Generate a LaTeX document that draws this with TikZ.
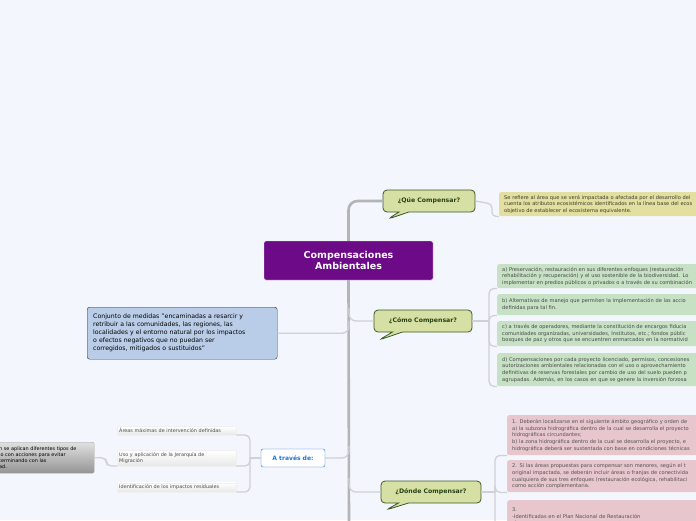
\documentclass[tikz,border=0pt]{standalone}
\usepackage{fontspec}
\setmainfont{DejaVu Sans}
\usetikzlibrary{shapes.callouts}

\definecolor{fondo}{RGB}{244,246,253}
\definecolor{morado}{RGB}{108,10,136}
\definecolor{tronco}{RGB}{180,180,182}
\definecolor{rama}{RGB}{208,208,214}
\definecolor{globo}{RGB}{214,224,164}
\definecolor{globoborde}{RGB}{58,90,38}
\definecolor{globotexto}{RGB}{38,66,22}
\definecolor{notaam}{RGB}{227,223,160}
\definecolor{notaverde}{RGB}{199,225,197}
\definecolor{notarosa}{RGB}{231,199,205}
\definecolor{azulinfo}{RGB}{186,205,232}
\definecolor{azultexto}{RGB}{28,118,214}

\tikzset{
  rama/.style={draw=rama, line width=1.3pt, rounded corners=7},
  pregunta/.style={rectangle callout, draw=globoborde, fill=globo, rounded corners=4,
    line width=0.8pt, callout pointer width=10pt, text=globotexto,
    font=\bfseries\fontsize{6.2}{7}\selectfont, minimum height=22, inner xsep=7},
  nota/.style={anchor=north west, rectangle, rounded corners=2, inner xsep=4, inner ysep=2,
    text width=250, align=left, minimum width=260, font=\fontsize{5.1}{6.7}\selectfont},
  item/.style={rectangle, draw=white!88!gray, top color=white, bottom color=black!9,
    inner sep=2, text width=115, align=left, text=black!70, font=\fontsize{4.9}{6.4}\selectfont}
}

\begin{document}
\begin{tikzpicture}[x=1pt, y=-1pt]
\clip (0,0) rectangle (696,520);
\fill[fondo] (0,0) rectangle (696,520);

% centro y preguntas
\node[draw=white!80!gray, fill=morado, text=white, rounded corners=1.5, align=center,
  minimum width=169, minimum height=39, inner sep=0,
  font=\bfseries\fontsize{9.5}{11}\selectfont] (centro) at (348.5,260.5) {Compensaciones\\Ambientales};

\node[pregunta, minimum width=92, callout absolute pointer={(388,219)}] (que) at (429,201) {¿Qúe Compensar?};
\node[pregunta, minimum width=98, callout absolute pointer={(379,340)}] (como) at (423,321) {¿Cómo Compensar?};
\node[pregunta, minimum width=100, callout absolute pointer={(386,510)}] (donde) at (431,492) {¿Dónde Compensar?};

% izquierda
\node[draw=black!80, fill=azulinfo, rounded corners=2.5, anchor=north west, text width=178,
  minimum width=190, minimum height=52, align=left, inner xsep=6,
  font=\fontsize{6.2}{8}\selectfont] (info) at (87,307)
  {Conjunto de medidas "encaminadas a resarcir y\\retribuir a las comunidades, las regiones, las\\localidades y el entorno natural por los impactos\\o efectos negativos que no puedan ser\\corregidos, mitigados o sustituidos"};

\node[draw=azultexto, fill=white, rounded corners=2, minimum width=64, minimum height=18,
  text=azultexto, font=\bfseries\fontsize{6}{7}\selectfont] (atraves) at (293,458) {A través de:};

\node[item, anchor=south west] (areas) at (117,435) {Áreas máximas de intervención definidas};
\node[item, anchor=south west] (uso) at (117,466) {Uso y aplicación de la Jerarquía de\\Migración};
\node[item, anchor=south west] (impactos) at (117,492) {Identificación de los impactos residuales};

\node[rectangle, draw=black!35, top color=black!12, bottom color=black!42, rounded corners=2,
  anchor=north west, minimum width=97, minimum height=31, text width=92, align=left,
  inner xsep=3, inner ysep=2, font=\fontsize{4.9}{6.3}\selectfont] (gris) at (-4,442)
  {n se aplican diferentes tipos de\\lo con acciones para evitar\\terminando con las\\ad.};

% notas de la derecha
\node[nota, fill=notaam, text=black!55!notaam!60!black, minimum height=24] (nqa) at (499,192)
  {Se refiere al área que se verá impactada o afectada por el desarrollo del\\cuenta los atributos ecosistémicos identificados  en la línea base del ecos\\objetivo de establecer el ecosistema equivalente.};

\node[nota, fill=notaverde, text=black!72, minimum height=24] (va) at (497,264)
  {a) Preservación, restauración en sus diferentes enfoques (restauración\\rehabilitación y recuperación) y el uso sostenible de la biodiversidad. Lo\\implementar en predios públicos o privados o a través de su combinación};
\node[nota, fill=notaverde, text=black!72, minimum height=21] (vb) at (497,294)
  {b) Alternativas de manejo que permiten la implementación de las accio\\definidas para tal fin.};
\node[nota, fill=notaverde, text=black!72, minimum height=25] (vc) at (497,321)
  {c) a través de operadores, mediante la constitución de encargos fiducia\\comunidades organizadas, universidades, Institutos, etc.; fondos públic\\bosques de paz y otros que se encuentren enmarcados en la normativid};
\node[nota, fill=notaverde, text=black!72, minimum height=33] (vd) at (497,353)
  {d) Compensaciones por cada proyecto licenciado, permisos, concesiones\\autorizaciones ambientales relacionadas con el uso o aprovechamiento\\definitivas de reservas forestales por cambio de uso del suelo pueden p\\agrupadas. Además, en los casos en que se genere la inversión forzosa};

\node[nota, fill=notarosa, text=black!68, minimum height=40] (r1) at (507,415)
  {1. Deberán localizarse en el siguiente ámbito geográfico y orden de\\a) la subzona hidrográfica dentro de la cual se desarrolla el proyecto\\hidrográficas circundantes;\\b) la zona hidrográfica dentro de la cual se desarrolla el proyecto, e\\hidrográfica deberá ser sustentada con base en condiciones técnicas};
\node[nota, fill=notarosa, text=black!68, minimum height=32] (r2) at (507,460)
  {2. Si las áreas propuestas para compensar son menores, según el t\\original impactada, se deberán incluir áreas o franjas de conectivida\\cualquiera de sus tres enfoques (restauración ecológica, rehabilitaci\\como acción complementaria.};
\node[nota, fill=notarosa, text=black!68, minimum height=34] (r3) at (507,500)
  {3.\\-Identificadas en el Plan Nacional de Restauración\\-Áreas de importancia para la conservación};

% tronco
\coordinate (tfin) at (349,530);
\draw[draw=tronco, line width=2.6pt, rounded corners=9] (que.west) -| (centro.north);
\draw[draw=tronco, line width=2.6pt] (centro.south) -- (tfin);

% ramas del tronco
\coordinate (tcomo) at (349,308);
\coordinate (tinfo) at (349,321);
\coordinate (tatraves) at (349,446);
\coordinate (tdonde) at (349,478);
\draw[rama] (tcomo) |- (como.west);
\draw[rama] (info.east) -| (tinfo);
\draw[rama] (atraves.east) -| (tatraves);
\draw[rama] (tdonde) |- (donde.west);

% ramas de las preguntas
\coordinate (cq) at (492,204);
\draw[rama, rounded corners=4] (que.east) -- (cq) |- (nqa.south west);

\coordinate (cv) at (489,321);
\draw[rama] (como.east) -- (cv);
\foreach \n in {va,vb,vc,vd}
  \draw[rama, rounded corners=5] (cv) |- (\n.south west);

\coordinate (cr) at (495,492);
\draw[rama] (donde.east) -- (cr);
\foreach \n in {r1,r2,r3}
  \draw[rama, rounded corners=5] (cr) |- (\n.south west);

\coordinate (ci) at (250,458);
\draw[rama] (atraves.west) -- (ci);
\foreach \n in {areas,uso,impactos}
  \draw[rama, rounded corners=5] (ci) |- (\n.south east);
\draw[rama, rounded corners=5] (gris.east) -- ++(12,0) |- (uso.south west);
\end{tikzpicture}
\end{document}
